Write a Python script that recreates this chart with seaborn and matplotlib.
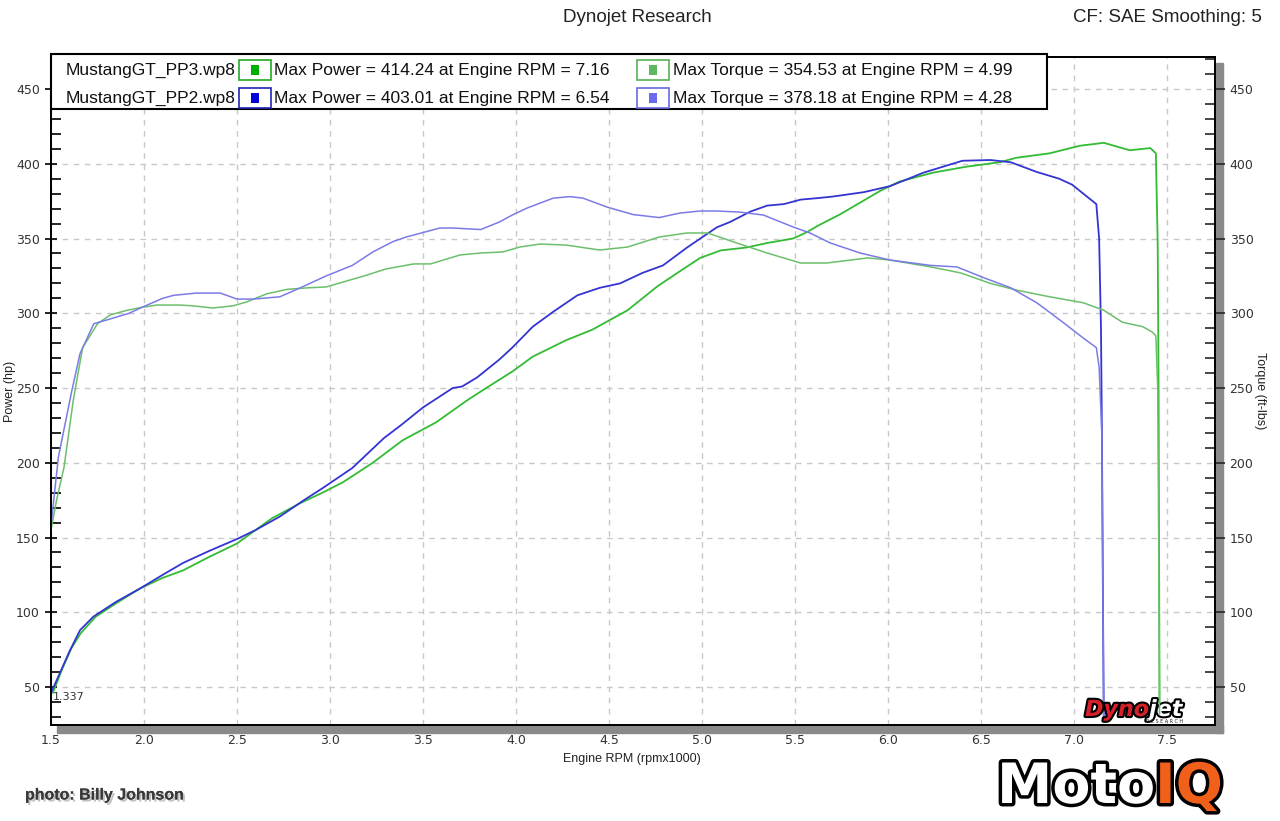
import matplotlib
matplotlib.use('Agg')
import matplotlib.pyplot as plt
import matplotlib.patheffects as pe
from matplotlib.patches import Rectangle
from matplotlib.ticker import MultipleLocator
import seaborn as sns

# PP3 run (green)
pp3_power_rpm = [1.51, 1.56, 1.61, 1.66, 1.74, 1.85, 1.98, 2.10, 2.21, 2.35, 2.50, 2.60, 2.69, 2.84,
                 2.96, 3.07, 3.23, 3.39, 3.48, 3.57, 3.74, 3.84, 3.98, 4.09, 4.27, 4.41, 4.60, 4.76,
                 4.88, 4.99, 5.10, 5.24, 5.35, 5.49, 5.56, 5.63, 5.74, 5.85, 5.96, 6.06, 6.24, 6.42,
                 6.60, 6.69, 6.87, 7.03, 7.16, 7.30, 7.41, 7.44, 7.45, 7.455, 7.46]
pp3_power_hp = [46, 62, 76, 86, 97, 106, 116, 123, 128, 137, 146, 155, 163, 173,
                180, 187, 200, 215, 221, 227, 242, 250, 261, 271, 282, 289, 302, 318,
                328, 337, 342, 344, 347, 350, 354, 359, 366, 374, 382, 388, 394, 398,
                401, 404, 407, 412, 414, 409, 410.5, 407, 346, 243, 32]

pp3_torque_rpm = [1.50, 1.53, 1.57, 1.62, 1.67, 1.75, 1.82, 1.91, 1.99, 2.07, 2.19, 2.26, 2.37, 2.48,
                  2.55, 2.66, 2.77, 2.88, 2.98, 3.09, 3.20, 3.30, 3.45, 3.54, 3.70, 3.81, 3.93, 4.02,
                  4.13, 4.27, 4.45, 4.60, 4.77, 4.92, 5.03, 5.17, 5.35, 5.53, 5.67, 5.89, 6.01, 6.23,
                  6.39, 6.55, 6.69, 6.87, 7.05, 7.16, 7.26, 7.37, 7.42, 7.44, 7.45, 7.455, 7.46]
pp3_torque_ftlb = [155, 175, 197, 242, 277, 293, 299, 302, 304, 305.5, 305.5, 305, 303.5, 305,
                   307.5, 313, 316, 317, 317.6, 321.6, 325.6, 329.6, 333, 333, 339, 340.3, 341, 344.3,
                   346.3, 345.6, 342.3, 344.3, 351, 353.7, 353.7, 347.7, 340.3, 333.6, 333.6, 337, 335.6, 331,
                   327, 320, 315.5, 311, 307, 302, 294, 291, 287.5, 285, 250, 150, 32]

# PP2 run (blue)
pp2_power_rpm = [1.50, 1.55, 1.60, 1.656, 1.727, 1.85, 1.98, 2.10, 2.21, 2.35, 2.50, 2.60, 2.73, 2.86,
                 2.96, 3.12, 3.29, 3.38, 3.50, 3.66, 3.71, 3.79, 3.91, 3.98, 4.09, 4.20, 4.33, 4.45,
                 4.56, 4.68, 4.79, 4.92, 5.08, 5.15, 5.26, 5.35, 5.44, 5.53, 5.62, 5.70, 5.87, 6.01,
                 6.19, 6.40, 6.55, 6.66, 6.80, 6.92, 6.99, 7.07, 7.12, 7.135, 7.145, 7.15, 7.155, 7.16]
pp2_power_hp = [46, 60, 74, 88, 97, 107, 116, 125, 133, 141, 149, 155, 164, 175,
                183, 196.5, 216.5, 225, 237, 250, 251, 257, 269, 277, 291, 301, 312, 317,
                320, 327, 332, 344, 357.5, 361, 368, 372, 373, 376, 377, 378, 381, 385,
                394, 402, 402.5, 401, 394.5, 390, 386, 378, 373, 350, 290, 220, 120, 28]

pp2_torque_rpm = [1.50, 1.54, 1.61, 1.656, 1.73, 1.80, 1.92, 1.99, 2.10, 2.16, 2.28, 2.41, 2.50, 2.59,
                  2.73, 2.84, 2.98, 3.12, 3.23, 3.34, 3.41, 3.59, 3.66, 3.81, 3.91, 3.98, 4.06, 4.20,
                  4.29, 4.36, 4.49, 4.63, 4.77, 4.88, 4.99, 5.08, 5.20, 5.33, 5.49, 5.58, 5.69, 5.85,
                  6.01, 6.23, 6.37, 6.51, 6.66, 6.80, 6.94, 7.05, 7.12, 7.135, 7.15, 7.155, 7.16]
pp2_torque_ftlb = [158, 204, 247, 273, 293, 295.5, 300, 304, 310, 312, 313.5, 313.5, 309.5, 309.5,
                   311, 317, 325, 332, 341, 348, 351, 357, 357, 356, 361, 365.7, 370.4, 377,
                   378, 377, 371, 366, 364, 367, 368.4, 368.4, 367.7, 365.7, 357.7, 353.7, 347, 340.3,
                   335.6, 332, 331, 324, 317, 307, 294, 283.4, 277, 264, 218, 120, 28]

# legend summary
run_names = ['MustangGT_PP3.wp8', 'MustangGT_PP2.wp8']
max_power = [414.24, 403.01]
max_power_rpm = [7.16, 6.54]
max_torque = [354.53, 378.18]
max_torque_rpm = [4.99, 4.28]

c_pp3_power, c_pp3_torque = '#33bb33', '#6cbf6c'
c_pp2_power, c_pp2_torque = '#3434d2', '#7b7be6'

sns.set_style('white')
plt.rcParams['font.family'] = ['DejaVu Sans']
narrow = ['Liberation Sans Narrow', 'Liberation Sans', 'DejaVu Sans']

W, H = 1280, 821
fig = plt.figure(figsize=(12.8, 8.21), dpi=100)
ax = fig.add_axes([51 / W, 1 - 725 / H, (1215 - 51) / W, (725 - 57) / H])
ax2 = ax.twinx()

sns.lineplot(x=pp3_power_rpm, y=pp3_power_hp, ax=ax, color=c_pp3_power, lw=1.3, sort=False, estimator=None)
sns.lineplot(x=pp2_power_rpm, y=pp2_power_hp, ax=ax, color=c_pp2_power, lw=1.3, sort=False, estimator=None)
sns.lineplot(x=pp3_torque_rpm, y=pp3_torque_ftlb, ax=ax2, color=c_pp3_torque, lw=1.1, sort=False, estimator=None)
sns.lineplot(x=pp2_torque_rpm, y=pp2_torque_ftlb, ax=ax2, color=c_pp2_torque, lw=1.1, sort=False, estimator=None)

for a in (ax, ax2):
    a.set_xlim(1.5, 7.758)
    a.set_ylim(24.6, 471.4)
    a.yaxis.set_major_locator(MultipleLocator(50))
    a.yaxis.set_minor_locator(MultipleLocator(10))
    for s in a.spines.values():
        s.set_color('black')
        s.set_linewidth(1.3)
ax.set_yticks(range(50, 451, 50))
ax2.set_yticks(range(50, 451, 50))
ax.xaxis.set_major_locator(MultipleLocator(0.5))
ax.xaxis.set_minor_locator(MultipleLocator(0.1))
ax.set_xticks([1.5 + 0.5 * i for i in range(13)])
ax.set_xticklabels(['%.1f' % (1.5 + 0.5 * i) for i in range(13)])

ax.tick_params(axis='both', which='major', direction='inout', length=9, width=1.2,
               labelsize=9, colors='black')
ax.tick_params(axis='both', which='minor', direction='in', length=7, width=1.2, colors='black')
ax.tick_params(axis='x', which='major', pad=2)
ax2.tick_params(axis='y', which='major', direction='out', length=7, width=1.2, labelsize=9)
ax2.tick_params(axis='y', which='minor', direction='in', length=7, width=1.2)
for lab in ax.get_xticklabels() + ax.get_yticklabels() + ax2.get_yticklabels():
    lab.set_color('#333333')

ax.grid(True, which='major', linestyle=(0, (4, 4)), color='#c8c8c8', lw=1)
ax2.grid(False)

ax.set_xlabel('Engine RPM (rpmx1000)', fontsize=9, family=narrow, color='#222222')
ax.set_ylabel('Power (hp)', fontsize=9, family=narrow, color='#222222')
ax2.set_ylabel('Torque (ft-lbs)', fontsize=9, family=narrow, color='#222222', rotation=270, va='center')
ax.xaxis.set_label_coords((632 - 51) / 1164, -(753 - 725) / 668)
ax.yaxis.set_label_coords((16 - 51) / 1164, 0.5)
ax2.yaxis.set_label_coords((1260 - 51) / 1164, 0.5)

ax.text(1.51, 43, '1.337', fontsize=8, color='#333333', va='center', ha='left')

# gray frame shadow
fig.add_artist(Rectangle((1216 / W, 1 - 733 / H), 7 / W, (733 - 63) / H,
                         transform=fig.transFigure, color='#8a8a8a', zorder=-1))
fig.add_artist(Rectangle((57 / W, 1 - 733 / H), (1223 - 57) / W, 7 / H,
                         transform=fig.transFigure, color='#8a8a8a', zorder=-1))

# header
fig.text(637 / W, 1 - 17 / H, 'Dynojet Research', ha='center', va='center', fontsize=13.5,
         family=narrow, color='#222222')
fig.text(1262 / W, 1 - 17 / H, 'CF: SAE Smoothing: 5', ha='right', va='center', fontsize=13.5,
         family=narrow, color='#222222')

# legend box
fig.add_artist(Rectangle((51 / W, 1 - 109 / H), 996 / W, 55 / H, transform=fig.transFigure,
                         facecolor='white', edgecolor='black', lw=1.5, zorder=4))
row_y = [70, 98]
sw_power = [('#22aa22', '#00b000'), ('#2222bb', '#0000dd')]
sw_torque = [('#55b055', '#5fb85f'), ('#6a6ae0', '#6a6aee')]
for i in range(2):
    yy = row_y[i]
    fig.text(66 / W, 1 - yy / H, run_names[i], ha='left', va='center', fontsize=12.5,
             family=narrow, color='#111111', zorder=6)
    for x0, (edge, fill) in ((239, sw_power[i]), (637, sw_torque[i])):
        fig.add_artist(Rectangle((x0 / W, 1 - (yy + 10) / H), 32 / W, 20 / H, transform=fig.transFigure,
                                 facecolor='white', edgecolor=edge, lw=1.2, zorder=5))
        fig.add_artist(Rectangle(((x0 + 12) / W, 1 - (yy + 5) / H), 8 / W, 10 / H, transform=fig.transFigure,
                                 facecolor=fill, edgecolor='none', zorder=6))
    fig.text(274 / W, 1 - yy / H, 'Max Power = %.2f at Engine RPM = %.2f' % (max_power[i], max_power_rpm[i]),
             ha='left', va='center', fontsize=12.5, family=narrow, color='#111111', zorder=6)
    fig.text(673 / W, 1 - yy / H, 'Max Torque = %.2f at Engine RPM = %.2f' % (max_torque[i], max_torque_rpm[i]),
             ha='left', va='center', fontsize=12.5, family=narrow, color='#111111', zorder=6)

# Dynojet badge
t1 = fig.text(1085 / W, 1 - 710 / H, 'Dyno', ha='left', va='center', fontsize=16, weight='bold',
              style='italic', color='#d8202a', zorder=7,
              path_effects=[pe.withStroke(linewidth=3, foreground='black')])
ax.annotate('jet', xy=(1, 0.5), xycoords=t1, va='center', ha='left', fontsize=16, weight='bold',
            style='italic', color='white', annotation_clip=False,
            path_effects=[pe.withStroke(linewidth=3, foreground='black')])
fig.text(1165 / W, 1 - 721 / H, 'R E S E A R C H', ha='center', va='center', fontsize=3.5,
         color='#222222', zorder=7)

# watermark texts
fig.text(25 / W, 1 - 795 / H, 'photo: Billy Johnson', ha='left', va='center', fontsize=11.5,
         weight='bold', family=narrow, color='#3a3a3a',
         path_effects=[pe.withSimplePatchShadow(offset=(1.5, -1.5), shadow_rgbFace='#999999', alpha=0.6),
                       pe.Normal()])
m1 = fig.text(997 / W, 1 - 788 / H, 'Moto', ha='left', va='center', fontsize=40, weight='heavy',
              color='white', path_effects=[pe.withStroke(linewidth=5, foreground='black')])
ax.annotate('IQ', xy=(1, 0.5), xycoords=m1, va='center', ha='left', fontsize=40, weight='heavy',
            color='#f0601a', annotation_clip=False,
            path_effects=[pe.withStroke(linewidth=5, foreground='black')])

fig.savefig('out.png', dpi=100, facecolor='white')
